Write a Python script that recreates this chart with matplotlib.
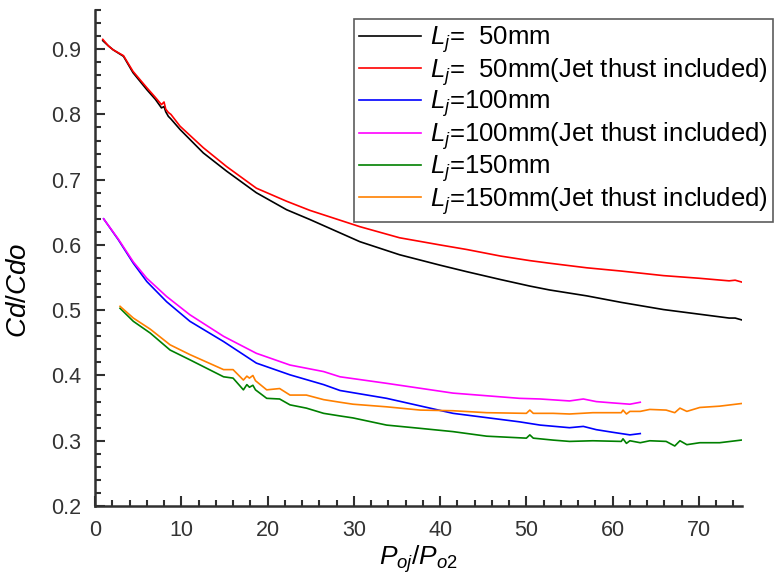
import matplotlib
matplotlib.use("Agg")
import matplotlib.pyplot as plt
from matplotlib.ticker import MultipleLocator, FormatStrFormatter

plt.rcParams["font.family"] = ["Liberation Sans", "DejaVu Sans"]
plt.rcParams["mathtext.fontset"] = "custom"
plt.rcParams["mathtext.rm"] = "Liberation Sans"
plt.rcParams["mathtext.it"] = "Liberation Sans:italic"

# Lj = 50 mm
x_50 = [0.9, 1.55, 2.1, 3.3, 4.4, 6.0, 7.0, 7.7, 8.0, 8.2, 8.5, 8.8, 9.85, 12.55, 15.26,
        18.7, 22.2, 24.9, 30.7, 35.3, 40.0, 43.1, 47.0, 50.4, 52.7, 57.0, 61.0, 65.9,
        70.0, 73.5, 74.2, 75.0]
cd_50 = [0.913, 0.905, 0.899, 0.889, 0.864, 0.838, 0.823, 0.810, 0.812, 0.804, 0.797,
         0.793, 0.777, 0.741, 0.713, 0.680, 0.654, 0.639, 0.605, 0.585, 0.569, 0.559,
         0.547, 0.537, 0.531, 0.522, 0.512, 0.501, 0.494, 0.488, 0.488, 0.485]
cd_50_jet = [0.915, 0.905, 0.899, 0.890, 0.866, 0.841, 0.826, 0.815, 0.819, 0.808, 0.803,
             0.800, 0.782, 0.749, 0.720, 0.687, 0.667, 0.653, 0.628, 0.611, 0.600, 0.593,
             0.583, 0.576, 0.572, 0.565, 0.560, 0.553, 0.549, 0.545, 0.546, 0.543]

# Lj = 100 mm
x_100 = [1.0, 2.7, 4.44, 6.0, 8.3, 11.0, 14.9, 18.7, 22.6, 26.5, 28.4, 33.8, 41.5,
         49.2, 51.6, 55.0, 56.6, 58.1, 60.0, 62.0, 63.2]
cd_100 = [0.640, 0.608, 0.572, 0.544, 0.513, 0.483, 0.452, 0.419, 0.401, 0.386, 0.377,
          0.365, 0.342, 0.329, 0.324, 0.320, 0.322, 0.317, 0.313, 0.309, 0.311]
cd_100_jet = [0.640, 0.609, 0.574, 0.549, 0.521, 0.493, 0.460, 0.434, 0.416, 0.406, 0.398,
              0.388, 0.373, 0.365, 0.364, 0.361, 0.364, 0.360, 0.358, 0.356, 0.359]

# Lj = 150 mm
x_150 = [2.9, 4.44, 6.4, 8.7, 11.0, 14.9, 16.0, 17.2, 17.6, 17.9, 18.3, 18.6, 19.9, 21.4,
         22.6, 24.5, 26.5, 28.4, 29.9, 33.8, 37.7, 41.5, 45.4, 50.0, 50.4, 50.8, 53.1,
         55.0, 57.7, 61.0, 61.2, 61.6, 62.0, 63.2, 64.3, 66.2, 67.2, 67.8, 68.6, 70.1,
         72.4, 74.9]
cd_150 = [0.503, 0.483, 0.465, 0.439, 0.424, 0.398, 0.396, 0.378, 0.386, 0.382, 0.385,
          0.378, 0.365, 0.364, 0.355, 0.350, 0.342, 0.338, 0.335, 0.324, 0.319, 0.314,
          0.307, 0.304, 0.309, 0.304, 0.301, 0.299, 0.300, 0.299, 0.303, 0.296, 0.300,
          0.297, 0.300, 0.299, 0.292, 0.300, 0.294, 0.297, 0.297, 0.301]
cd_150_jet = [0.506, 0.488, 0.471, 0.447, 0.432, 0.409, 0.409, 0.393, 0.399, 0.396, 0.400,
              0.392, 0.378, 0.380, 0.370, 0.370, 0.363, 0.359, 0.356, 0.352, 0.347, 0.346,
              0.343, 0.342, 0.347, 0.342, 0.342, 0.341, 0.343, 0.343, 0.347, 0.341, 0.345,
              0.345, 0.348, 0.347, 0.343, 0.350, 0.345, 0.351, 0.353, 0.357]

labels = [r"$L_j$=  50mm", r"$L_j$=  50mm(Jet thust included)",
          r"$L_j$=100mm", r"$L_j$=100mm(Jet thust included)",
          r"$L_j$=150mm", r"$L_j$=150mm(Jet thust included)"]
colors = ["#000000", "#ff0000", "#0000ff", "#ff00ff", "#008000", "#ff8000"]

series = [(x_50, cd_50), (x_50, cd_50_jet), (x_100, cd_100), (x_100, cd_100_jet),
          (x_150, cd_150), (x_150, cd_150_jet)]

fig = plt.figure(figsize=(7.84, 5.77), dpi=100)
ax = fig.add_axes([0.1212, 0.1230, 0.8253, 0.8597])

lines = []
for (xs, ys), lab, c in zip(series, labels, colors):
    ln, = ax.plot(xs, ys, color=c, lw=1.2, label=lab)
    lines.append(ln)

ax.set_xlim(0, 75)
ax.set_ylim(0.2, 0.96)
ax.xaxis.set_major_locator(MultipleLocator(10))
ax.xaxis.set_minor_locator(MultipleLocator(2))
ax.yaxis.set_major_locator(MultipleLocator(0.1))
ax.yaxis.set_minor_locator(MultipleLocator(0.02))
ax.yaxis.set_major_formatter(FormatStrFormatter("%.1f"))

for s in ["top", "right"]:
    ax.spines[s].set_visible(False)
for s in ["left", "bottom"]:
    ax.spines[s].set_linewidth(1.8)
    ax.spines[s].set_color("#303030")

ax.tick_params(which="both", direction="in", color="#303030", width=1.5,
               labelsize=15.5, labelcolor="#333333")
ax.tick_params(which="major", length=7, pad=10)
ax.tick_params(which="minor", length=4)

ax.set_ylabel(r"$Cd/Cdo$", fontsize=20)
ax.yaxis.set_label_coords(-0.097, 0.435)
ax.set_xlabel(r"$P_{oj}/P_{o2}$", fontsize=19, labelpad=2)

leg = fig.legend(handles=lines, loc="upper left", bbox_to_anchor=(0.4515, 0.967),
                 fontsize=18.5, frameon=True, fancybox=False, edgecolor="#333333",
                 handlelength=2.4, handletextpad=0.36, borderpad=0.2,
                 labelspacing=0.04, borderaxespad=0)
leg.get_frame().set_linewidth(1.2)

fig.savefig("out.png", dpi=100)
